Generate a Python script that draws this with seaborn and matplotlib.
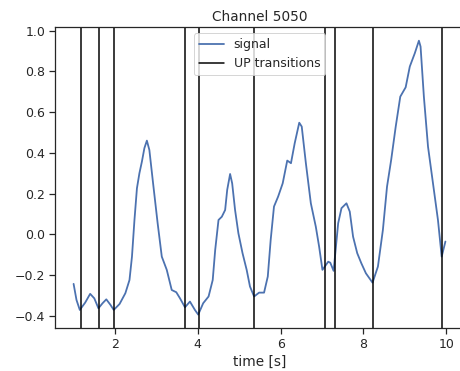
import matplotlib
matplotlib.use("Agg")
import matplotlib.pyplot as plt
import seaborn as sns
import pandas as pd

time_s = [1.00, 1.07, 1.15, 1.28, 1.40, 1.50, 1.60, 1.70, 1.79, 1.89, 1.97, 2.11,
          2.25, 2.35, 2.41, 2.47, 2.53, 2.59, 2.65, 2.71, 2.77, 2.83, 2.92, 3.03,
          3.13, 3.25, 3.37, 3.48, 3.57, 3.69, 3.81, 3.93, 4.01, 4.13, 4.26, 4.36,
          4.42, 4.50, 4.58, 4.66, 4.71, 4.78, 4.83, 4.90, 4.98, 5.08, 5.18, 5.26,
          5.36, 5.48, 5.60, 5.69, 5.76, 5.84, 5.94, 6.05, 6.16, 6.25, 6.34, 6.45,
          6.51, 6.61, 6.73, 6.85, 6.93, 7.01, 7.15, 7.20, 7.28, 7.39, 7.47, 7.59,
          7.67, 7.75, 7.85, 7.95, 8.06, 8.22, 8.35, 8.47, 8.57, 8.67, 8.78, 8.89,
          9.02, 9.12, 9.24, 9.34, 9.38, 9.46, 9.56, 9.68, 9.80, 9.89, 9.98]
signal = [-0.244, -0.323, -0.372, -0.336, -0.293, -0.315, -0.364, -0.339, -0.320, -0.347,
          -0.372, -0.343, -0.290, -0.225, -0.110, 0.070, 0.226, 0.300, 0.357, 0.423,
          0.460, 0.414, 0.250, 0.054, -0.110, -0.175, -0.274, -0.285, -0.315, -0.359,
          -0.331, -0.372, -0.395, -0.339, -0.306, -0.225, -0.077, 0.070, 0.086, 0.119,
          0.218, 0.296, 0.250, 0.119, 0.005, -0.093, -0.175, -0.257, -0.306, -0.287,
          -0.287, -0.208, -0.028, 0.136, 0.185, 0.250, 0.362, 0.349, 0.447, 0.548,
          0.529, 0.349, 0.152, 0.037, -0.061, -0.175, -0.135, -0.140, -0.180, 0.054,
          0.128, 0.152, 0.111, -0.012, -0.093, -0.143, -0.192, -0.238, -0.159, 0.021,
          0.234, 0.365, 0.529, 0.676, 0.722, 0.824, 0.889, 0.951, 0.922, 0.676,
          0.430, 0.250, 0.070, -0.110, -0.036]
up_transitions = [1.17, 1.61, 1.98, 3.68, 4.02, 5.36, 7.07, 7.31, 8.22, 9.89]
title = "Channel 5050"

sns.set_theme(style="ticks", font_scale=1.136)
df = pd.DataFrame({"time [s]": time_s, "signal": signal})

fig = plt.figure(figsize=(460 / 72, 371 / 72), dpi=72)
ax = fig.add_axes([55 / 460, 1 - 328.3 / 371, (464 - 55) / 460, (328.3 - 27) / 371])

sns.lineplot(data=df, x="time [s]", y="signal", ax=ax, label="signal", lw=1.8)
for i, t in enumerate(up_transitions):
    ax.axvline(t, color="black", lw=1.5, label="UP transitions" if i == 0 else None)

ax.set_ylabel("")
ax.set_title(title)
ax.legend(loc="upper center")

fig.savefig("out.png", dpi=72)
